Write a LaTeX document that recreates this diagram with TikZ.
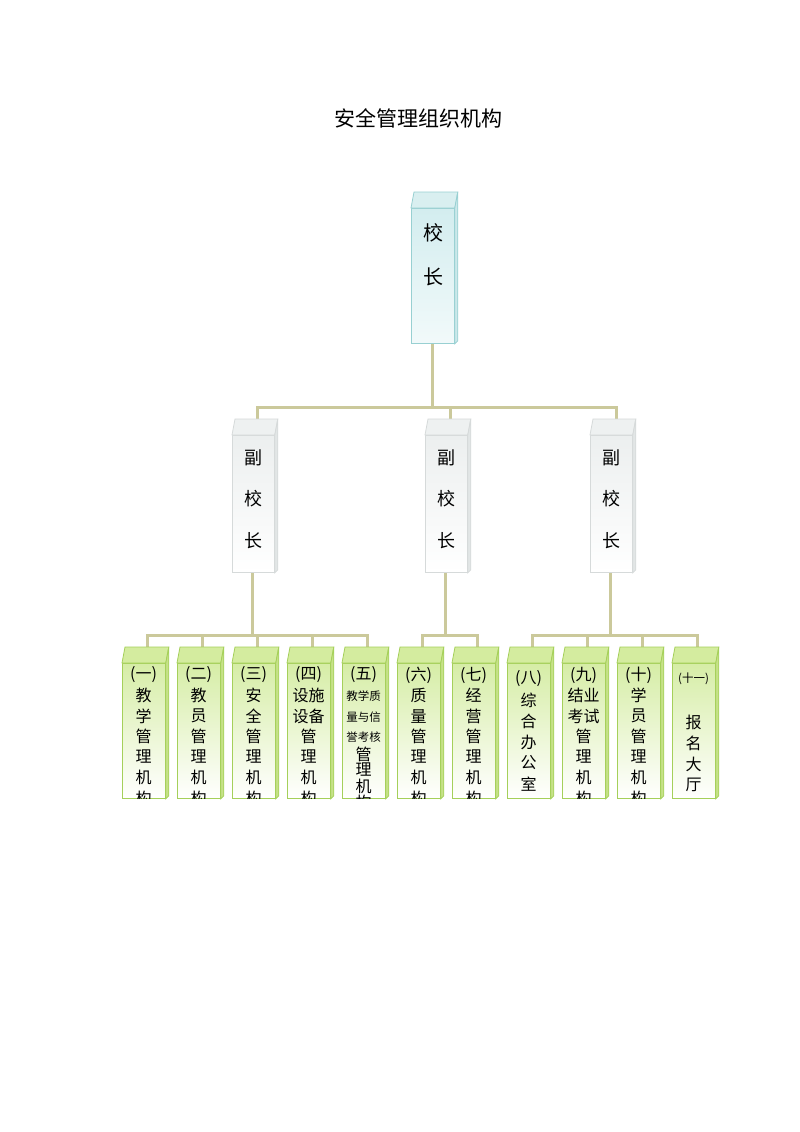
\documentclass[tikz,border=0pt]{standalone}
\usepackage{fontspec}
\setmainfont{Noto Sans CJK SC}
\definecolor{lineC}{HTML}{CBC99B}
\definecolor{leafB}{HTML}{A5D05A}
\definecolor{leafFront}{HTML}{D6EDA6}
\definecolor{leafTopF}{HTML}{D4EC9F}
\definecolor{leafSide}{HTML}{C6E288}
\definecolor{vpB}{HTML}{D6DADA}
\definecolor{vpFront}{HTML}{ECEFEF}
\definecolor{vpTopF}{HTML}{EEF1F1}
\definecolor{vpSide}{HTML}{E2E6E6}
\definecolor{bossB}{HTML}{98D0D2}
\definecolor{bossFront}{HTML}{D3EDEF}
\definecolor{bossTopF}{HTML}{D9EFF0}
\definecolor{bossSide}{HTML}{CBE8EA}
\tikzset{
  conn/.style={draw=lineC, line width=3pt},
  leafbox/.style={draw=leafB, line width=0.8pt, top color=leafFront, bottom color=white, minimum width=43pt, minimum height=135pt, inner sep=0pt, anchor=north west},
  vpbox/.style={draw=vpB, line width=0.8pt, top color=vpFront, bottom color=white, minimum width=42pt, minimum height=137pt, inner sep=0pt, anchor=north west},
  bossbox/.style={draw=bossB, line width=0.8pt, top color=bossFront, bottom color=white!70!bossFront, minimum width=43pt, minimum height=135pt, inner sep=0pt, anchor=north west},
  ltext/.style={inner sep=0pt, font=\fontsize{16}{16}\selectfont},
  stext/.style={inner sep=0pt, font=\fontsize{11.5}{12}\selectfont},
  vtext/.style={inner sep=0pt, font=\fontsize{18}{18}\selectfont},
  btext/.style={inner sep=0pt, font=\fontsize{20}{20}\selectfont},
}
% 3D faces: node name, top fill, side fill, border
\newcommand\threeD[4]{%
  \filldraw[fill=#2, draw=#4, line width=0.8pt] (#1.north west) -- ++(3,-16) -- ([shift={(3,-16)}]#1.north east) -- (#1.north east) -- cycle;
  \filldraw[fill=#3, draw=#4, line width=0.8pt] (#1.north east) -- ++(3,-16) -- ([shift={(3,-3)}]#1.south east) -- (#1.south east) -- cycle;
}
\newcommand\leafframe[2]{%
  \node[leafbox] (#1) at (#2,663) {};
  \threeD{#1}{leafTopF}{leafSide}{leafB}%
}
\newcommand\leafstd[3]{%
  \leafframe{#1}{#2}
  \begin{scope}
    \clip (#1.north west) rectangle (#1.south east);
    \foreach \t [count=\i] in {#3} \node[ltext] (#1t\i) at (#2+21.5, 675+20.5*\i-20.5) {\t};
  \end{scope}
}
\begin{document}
\begin{tikzpicture}[x=1pt, y=-1pt]
\useasboundingbox[fill=white] (0,0) rectangle (800,1132);

\node[inner sep=0pt, font=\fontsize{21}{21}\selectfont] (title) at (418,118) {安全管理组织机构};

% nodes (front faces) placed first for connectors
\node[bossbox] (boss) at (411,208) {};
\node[vpbox] (vp1) at (232,435) {};
\node[vpbox] (vp2) at (425,435) {};
\node[vpbox] (vp3) at (590,435) {};

% connectors
\path (boss.south) ++(0,64) coordinate (bus0);
\coordinate (vp1c) at (257,419);
\coordinate (vp2c) at (450,419);
\coordinate (vp3c) at (616,419);
\draw[conn] (boss.south) -- (bus0);
\draw[conn] (vp1c) |- (bus0);
\draw[conn] (vp3c) |- (bus0);
\draw[conn] (vp2c) |- (bus0);

\path (vp1.south) ++(-1,63) coordinate (bus1);
\path (vp2.south) ++(-1,63) coordinate (bus2);
\path (vp3.south) ++(-1,63) coordinate (bus3);
\draw[conn] ([xshift=-1pt]vp1.south) -- (bus1);
\draw[conn] ([xshift=-1pt]vp2.south) -- (bus2);
\draw[conn] ([xshift=-1pt]vp3.south) -- (bus3);
\foreach \L/\b in {122/bus1,177/bus1,232/bus1,287/bus1,342/bus1,397/bus2,452/bus2,507/bus3,562/bus3,617/bus3,672/bus3}
  \draw[conn] (\L+25,648) |- (\b);

% boss box
\node[bossbox] (boss) at (411,208) {};
\threeD{boss}{bossTopF}{bossSide}{bossB}
\node[btext] (bosst1) at (433,233) {校};
\node[btext] (bosst2) at (433,277) {长};

% vice principals
\foreach \n/\x in {vp1/232,vp2/425,vp3/590}{
  \node[vpbox] (\n) at (\x,435) {};
  \threeD{\n}{vpTopF}{vpSide}{vpB}
  \node[vtext] (\n t1) at (\x+21,458) {副};
  \node[vtext] (\n t2) at (\x+21,499) {校};
  \node[vtext] (\n t3) at (\x+21,541) {长};
}

% leaves
\leafstd{b1}{122}{(一),教,学,管,理,机,构}
\leafstd{b2}{177}{(二),教,员,管,理,机,构}
\leafstd{b3}{232}{(三),安,全,管,理,机,构}
\leafstd{b4}{287}{(四),设施,设备,管,理,机,构}
\leafstd{b6}{397}{(六),质,量,管,理,机,构}
\leafstd{b7}{452}{(七),经,营,管,理,机,构}
\leafstd{b9}{562}{(九),结业,考试,管,理,机,构}
\leafstd{b10}{617}{(十),学,员,管,理,机,构}

% box 5
\leafframe{b5}{342}
\begin{scope}
  \clip (b5.north west) rectangle (b5.south east);
  \node[ltext] (b5t1) at (363.5,675) {(五)};
  \node[stext] (b5t2) at (363.5,696) {教学质};
  \node[stext] (b5t3) at (363.5,717) {量与信};
  \node[stext] (b5t4) at (363.5,737) {誉考核};
  \node[ltext] (b5t5) at (363.5,754) {管};
  \node[ltext] (b5t6) at (363.5,770) {理};
  \node[ltext] (b5t7) at (363.5,786) {机};
  \node[ltext] (b5t8) at (363.5,802) {构};
\end{scope}

% box 8
\leafframe{b8}{507}
\begin{scope}
  \clip (b8.north west) rectangle (b8.south east);
  \node[ltext] (b8t1) at (528.5,679) {(八)};
  \foreach \t [count=\i] in {综,合,办,公,室}
    \node[ltext] (b8t\i x) at (528.5,700+21*\i-21) {\t};
\end{scope}

% box 11
\leafframe{b11}{672}
\begin{scope}
  \clip (b11.north west) rectangle (b11.south east);
  \node[stext] (b11t1) at (693.5,679) {(十一)};
  \foreach \t [count=\i] in {报,名,大,厅}
    \node[ltext] (b11t\i x) at (693.5,722+21*\i-21) {\t};
\end{scope}
\end{tikzpicture}
\end{document}
